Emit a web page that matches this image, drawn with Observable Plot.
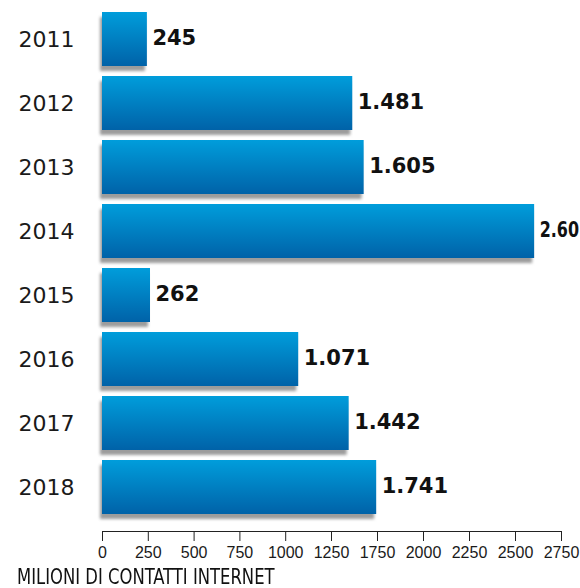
<!DOCTYPE html>
<html>
<head>
<meta charset="utf-8">
<script src="https://cdn.jsdelivr.net/npm/d3@7"></script>
<script src="https://cdn.jsdelivr.net/npm/@observablehq/plot@0.6"></script>
<style>
  html, body { margin: 0; padding: 0; background: #fff; overflow: hidden; }
  #wrap { position: relative; width: 580px; height: 588px; overflow: hidden; }
  #caption {
    position: absolute; left: 17px; top: 566px;
    font-family: "DejaVu Sans Condensed", "DejaVu Sans", sans-serif;
    font-stretch: condensed; font-size: 22px; color: #111;
    white-space: nowrap; transform-origin: 0 0; transform: scaleX(0.83);
    line-height: 1;
  }
</style>
</head>
<body>
<div id="wrap">
  <div id="chart"></div>
  <div id="caption">MILIONI DI CONTATTI INTERNET</div>
</div>
<script>
// Data
const years = ["2011", "2012", "2013", "2014", "2015", "2016", "2017", "2018"];
const values = [245, 1481, 1605, 2604, 262, 1071, 1442, 1741];
const valueLabels = ["245", "1.481", "1.605", "2.60", "262", "1.071", "1.442", "1.741"];
// Tick labels as printed (the reference axis has no 1500)
const tickValues = [0, 250, 500, 750, 1000, 1250, 1750, 2000, 2250, 2500, 2750];
// The reference axis is evenly spaced although 1500 is skipped: piecewise scale
const xDomain = [0, 1250, 1750, 2750];
const xRange = [102, 331, 377, 561];

const data = years.map((y, i) => ({ year: y, value: values[i], label: valueLabels[i] }));

const W = 580, H = 562;
const plot = Plot.plot({
  width: W,
  height: H,
  marginLeft: 102,
  marginRight: 19,
  marginTop: 10,
  marginBottom: 31,
  style: { fontFamily: "DejaVu Sans, sans-serif", background: "#fff", color: "#111" },
  x: { type: "linear", domain: xDomain, range: xRange },
  y: { type: "band", domain: years, range: [10, 515], paddingInner: 0.16, paddingOuter: 0 },
  marks: [
    Plot.barX(data, { x: "value", y: "year", fill: "#9c9c9c", dx: -2, dy: 5 }),
    Plot.barX(data, { x: "value", y: "year", fill: "url(#barGrad)" }),
    Plot.text(data, {
      x: "value", y: "year", text: "label", textAnchor: "start", dx: 5, dy: -1,
      fontSize: 21, fontWeight: "bold", fill: "#111",
      fontFamily: "DejaVu Sans, sans-serif"
    }),
    Plot.axisY({ tickSize: 0, tickPadding: 28, fontSize: 22, label: null, fill: "#1a1a1a",
      fontFamily: "DejaVu Sans, sans-serif" }),
    Plot.axisX({ ticks: tickValues, tickSize: 10, tickPadding: 5, fontSize: 16, label: null,
      tickFormat: d => String(d), stroke: "#222", fill: "#1a1a1a",
      fontFamily: "Liberation Sans, Arial, sans-serif" }),
    Plot.frame({ anchor: "bottom", stroke: "#222" })
  ]
});

// gradient definition for the bars and blur for the shadows
const svg = d3.select(plot);
const defs = svg.insert("defs", ":first-child");
const g = defs.append("linearGradient").attr("id", "barGrad")
  .attr("x1", 0).attr("y1", 0).attr("x2", 0).attr("y2", 1);
g.append("stop").attr("offset", "0%").attr("stop-color", "#009ddb");
g.append("stop").attr("offset", "100%").attr("stop-color", "#0062a8");
const bars = svg.selectAll('g[aria-label="bar"]').nodes();
if (bars.length) d3.select(bars[0]).style("filter", "blur(1.5px)");

document.getElementById("chart").appendChild(plot);

// squeeze a value label that would run past the right edge (as in the reference, it touches it)
const svgLeft = plot.getBoundingClientRect().left;
svg.selectAll('g[aria-label="text"] text').each(function () {
  const r = this.getBoundingClientRect();
  const right = r.right - svgLeft;
  if (right > W - 1) {
    const len = this.getComputedTextLength();
    this.setAttribute("textLength", Math.max(10, len - (right - (W - 1))));
    this.setAttribute("lengthAdjust", "spacingAndGlyphs");
  }
});
</script>
</body>
</html>
